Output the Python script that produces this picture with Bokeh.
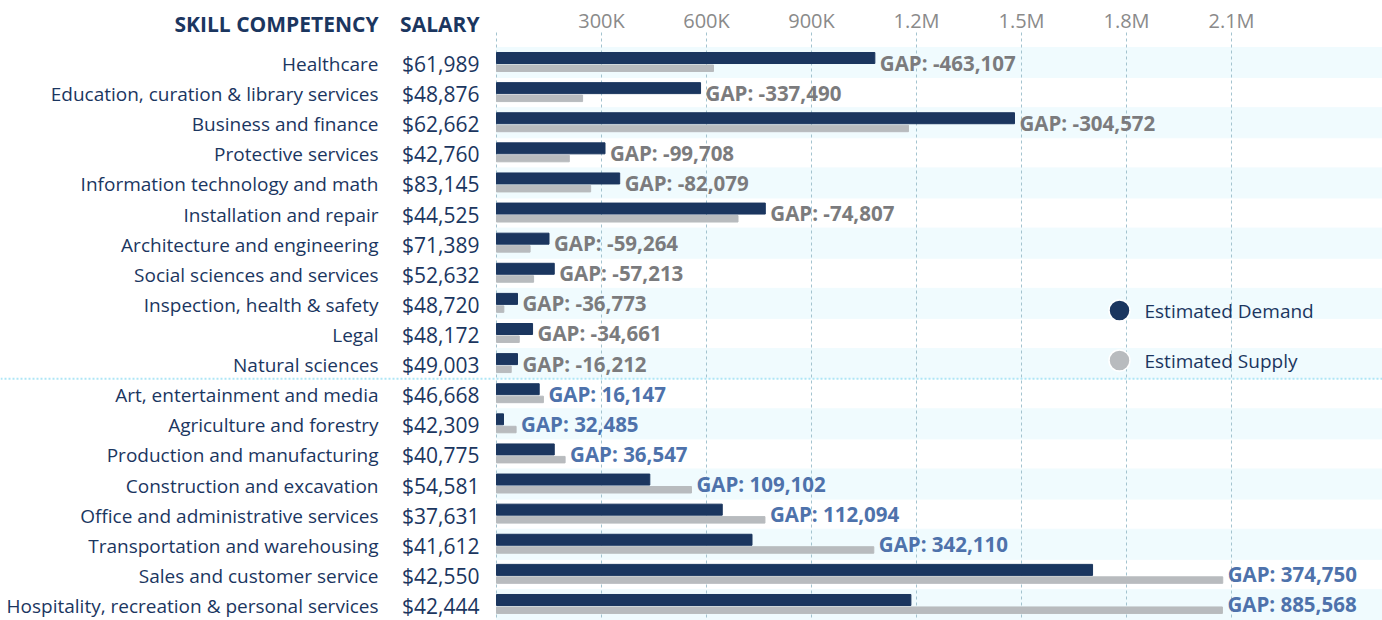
from bokeh.plotting import figure
from bokeh.models import Range1d, Span, ColumnDataSource
from bokeh.embed import file_html
from bokeh.resources import INLINE
from bokeh.core.properties import value

categories = [
    "Healthcare", "Education, curation & library services", "Business and finance",
    "Protective services", "Information technology and math", "Installation and repair",
    "Architecture and engineering", "Social sciences and services", "Inspection, health & safety",
    "Legal", "Natural sciences", "Art, entertainment and media", "Agriculture and forestry",
    "Production and manufacturing", "Construction and excavation",
    "Office and administrative services", "Transportation and warehousing",
    "Sales and customer service", "Hospitality, recreation & personal services",
]
salaries = ["$61,989", "$48,876", "$62,662", "$42,760", "$83,145", "$44,525", "$71,389",
            "$52,632", "$48,720", "$48,172", "$49,003", "$46,668", "$42,309", "$40,775",
            "$54,581", "$37,631", "$41,612", "$42,550", "$42,444"]
demand = [1081000, 583000, 1480000, 310000, 352000, 768000, 150000, 165000, 60000, 103000,
          60000, 122000, 20000, 165000, 438000, 645000, 730000, 1703000, 1184000]
supply = [620000, 246000, 1177000, 208000, 269000, 690000, 96000, 106000, 21000, 65000,
          42000, 134000, 56000, 196000, 557000, 767000, 1078000, 2075000, 2074000]
gaps = [-463107, -337490, -304572, -99708, -82079, -74807, -59264, -57213, -36773, -34661,
        -16212, 16147, 32485, 36547, 109102, 112094, 342110, 374750, 885568]
tick_values = [0, 300000, 600000, 900000, 1200000, 1500000, 1800000, 2100000]
tick_labels = ["", "300K", "600K", "900K", "1.2M", "1.5M", "1.8M", "2.1M"]
headers = ["SKILL COMPETENCY", "SALARY"]
legend_labels = ["Estimated Demand", "Estimated Supply"]

NAVY = "#1b365f"
GREY_BAR = "#b8bbbe"
NEG_TXT = "#7b7b7d"
POS_TXT = "#4e72ab"
STRIPE = "#f0fbfe"
GRID = "#a3c3cf"
FONT = "Open Sans"

W, H = 1382, 620
ZERO_PX = 496                # x pixel of value 0
PX_PER_UNIT = 0.35 / 1000    # 105 px per 300K
x_start = -ZERO_PX / PX_PER_UNIT
x_end = (W - ZERO_PX) / PX_PER_UNIT
ROW = 30.11                  # px per row
FIRST = 62                   # px of first row centre


def row_at(px):
    return (px - FIRST) / ROW


p = figure(width=W, height=H, x_range=Range1d(x_start, x_end),
           y_range=Range1d(row_at(H), row_at(0)),
           output_backend="svg", toolbar_location=None,
           min_border_left=0, min_border_right=0, min_border_bottom=0, min_border_top=0)
p.extra_x_ranges = {"px": Range1d(0, W)}
p.outline_line_color = None
p.background_fill_color = "white"
p.border_fill_color = "white"
p.xaxis.visible = False
p.yaxis.visible = False
p.xgrid.visible = False
p.ygrid.visible = False

n = len(categories)
rows = list(range(n))

# stripes
stripe_rows = [i for i in rows if i % 2 == 0]
p.hbar(y=stripe_rows, left=0, right=x_end, height=1.0, color=STRIPE)

# vertical dashed grid lines
p.segment(x0=tick_values, x1=tick_values, y0=row_at(32), y1=row_at(H),
          line_color=GRID, line_dash="3 3", line_width=1)
# top tick labels
p.text(x=tick_values, y=row_at(20), text=tick_labels, text_color="#8a8a8a",
       text_font=value(FONT), text_font_size="20px", text_align="center",
       text_baseline="middle")

src = ColumnDataSource(dict(
    row=rows,
    drow=[i - 0.149 for i in rows],
    srow=[i + 0.19 for i in rows],
    trow=[i + 0.05 for i in rows],
    demand=demand, supply=supply,
    cat=categories, sal=salaries,
    gx=[max(d, s) for d, s in zip(demand, supply)],
    gtxt=["GAP: {:,}".format(g) for g in gaps],
    gcol=[NEG_TXT if g < 0 else POS_TXT for g in gaps],
))

p.hbar(y="drow", left=0, right="demand", height=0.365, color=NAVY, source=src)
p.hbar(y="srow", left=0, right="supply", height=0.216, color=GREY_BAR, source=src)

p.text(x="gx", y="row", text="gtxt", source=src, x_offset=5, text_color="gcol",
       text_font=value(FONT), text_font_style="bold", text_font_size="20.5px",
       text_baseline="middle", text_align="left")
p.text(x=378, y="trow", text="cat", source=src, x_range_name="px", text_color=NAVY,
       text_font=value(FONT), text_font_size="19px", text_baseline="middle", text_align="right")
p.text(x=479, y="trow", text="sal", source=src, x_range_name="px", text_color=NAVY,
       text_font=value(FONT), text_font_size="21px", text_baseline="middle", text_align="right")

# headers
p.text(x=[378, 479], y=row_at(23), text=headers, x_range_name="px", text_color=NAVY,
       text_font=value(FONT), text_font_style="bold", text_font_size="21px",
       text_baseline="middle", text_align="right")

# separator between shortage and surplus
split = next(i for i, g in enumerate(gaps) if g > 0)
p.add_layout(Span(location=split - 0.5, dimension="width", line_color="#aee6f6",
                  line_width=2, line_dash="2 2"))

# legend
leg_rows = [row_at(310), row_at(360)]
p.scatter(x=[1119, 1119], y=leg_rows, x_range_name="px", size=21,
          fill_color=[NAVY, GREY_BAR], line_color="white", line_width=1.5)
p.text(x=[1144, 1144], y=leg_rows, text=legend_labels, x_range_name="px", text_color=NAVY,
       text_font=value(FONT), text_font_size="19px", text_baseline="middle", text_align="left")

open("out.html", "w").write(file_html(p, INLINE))
